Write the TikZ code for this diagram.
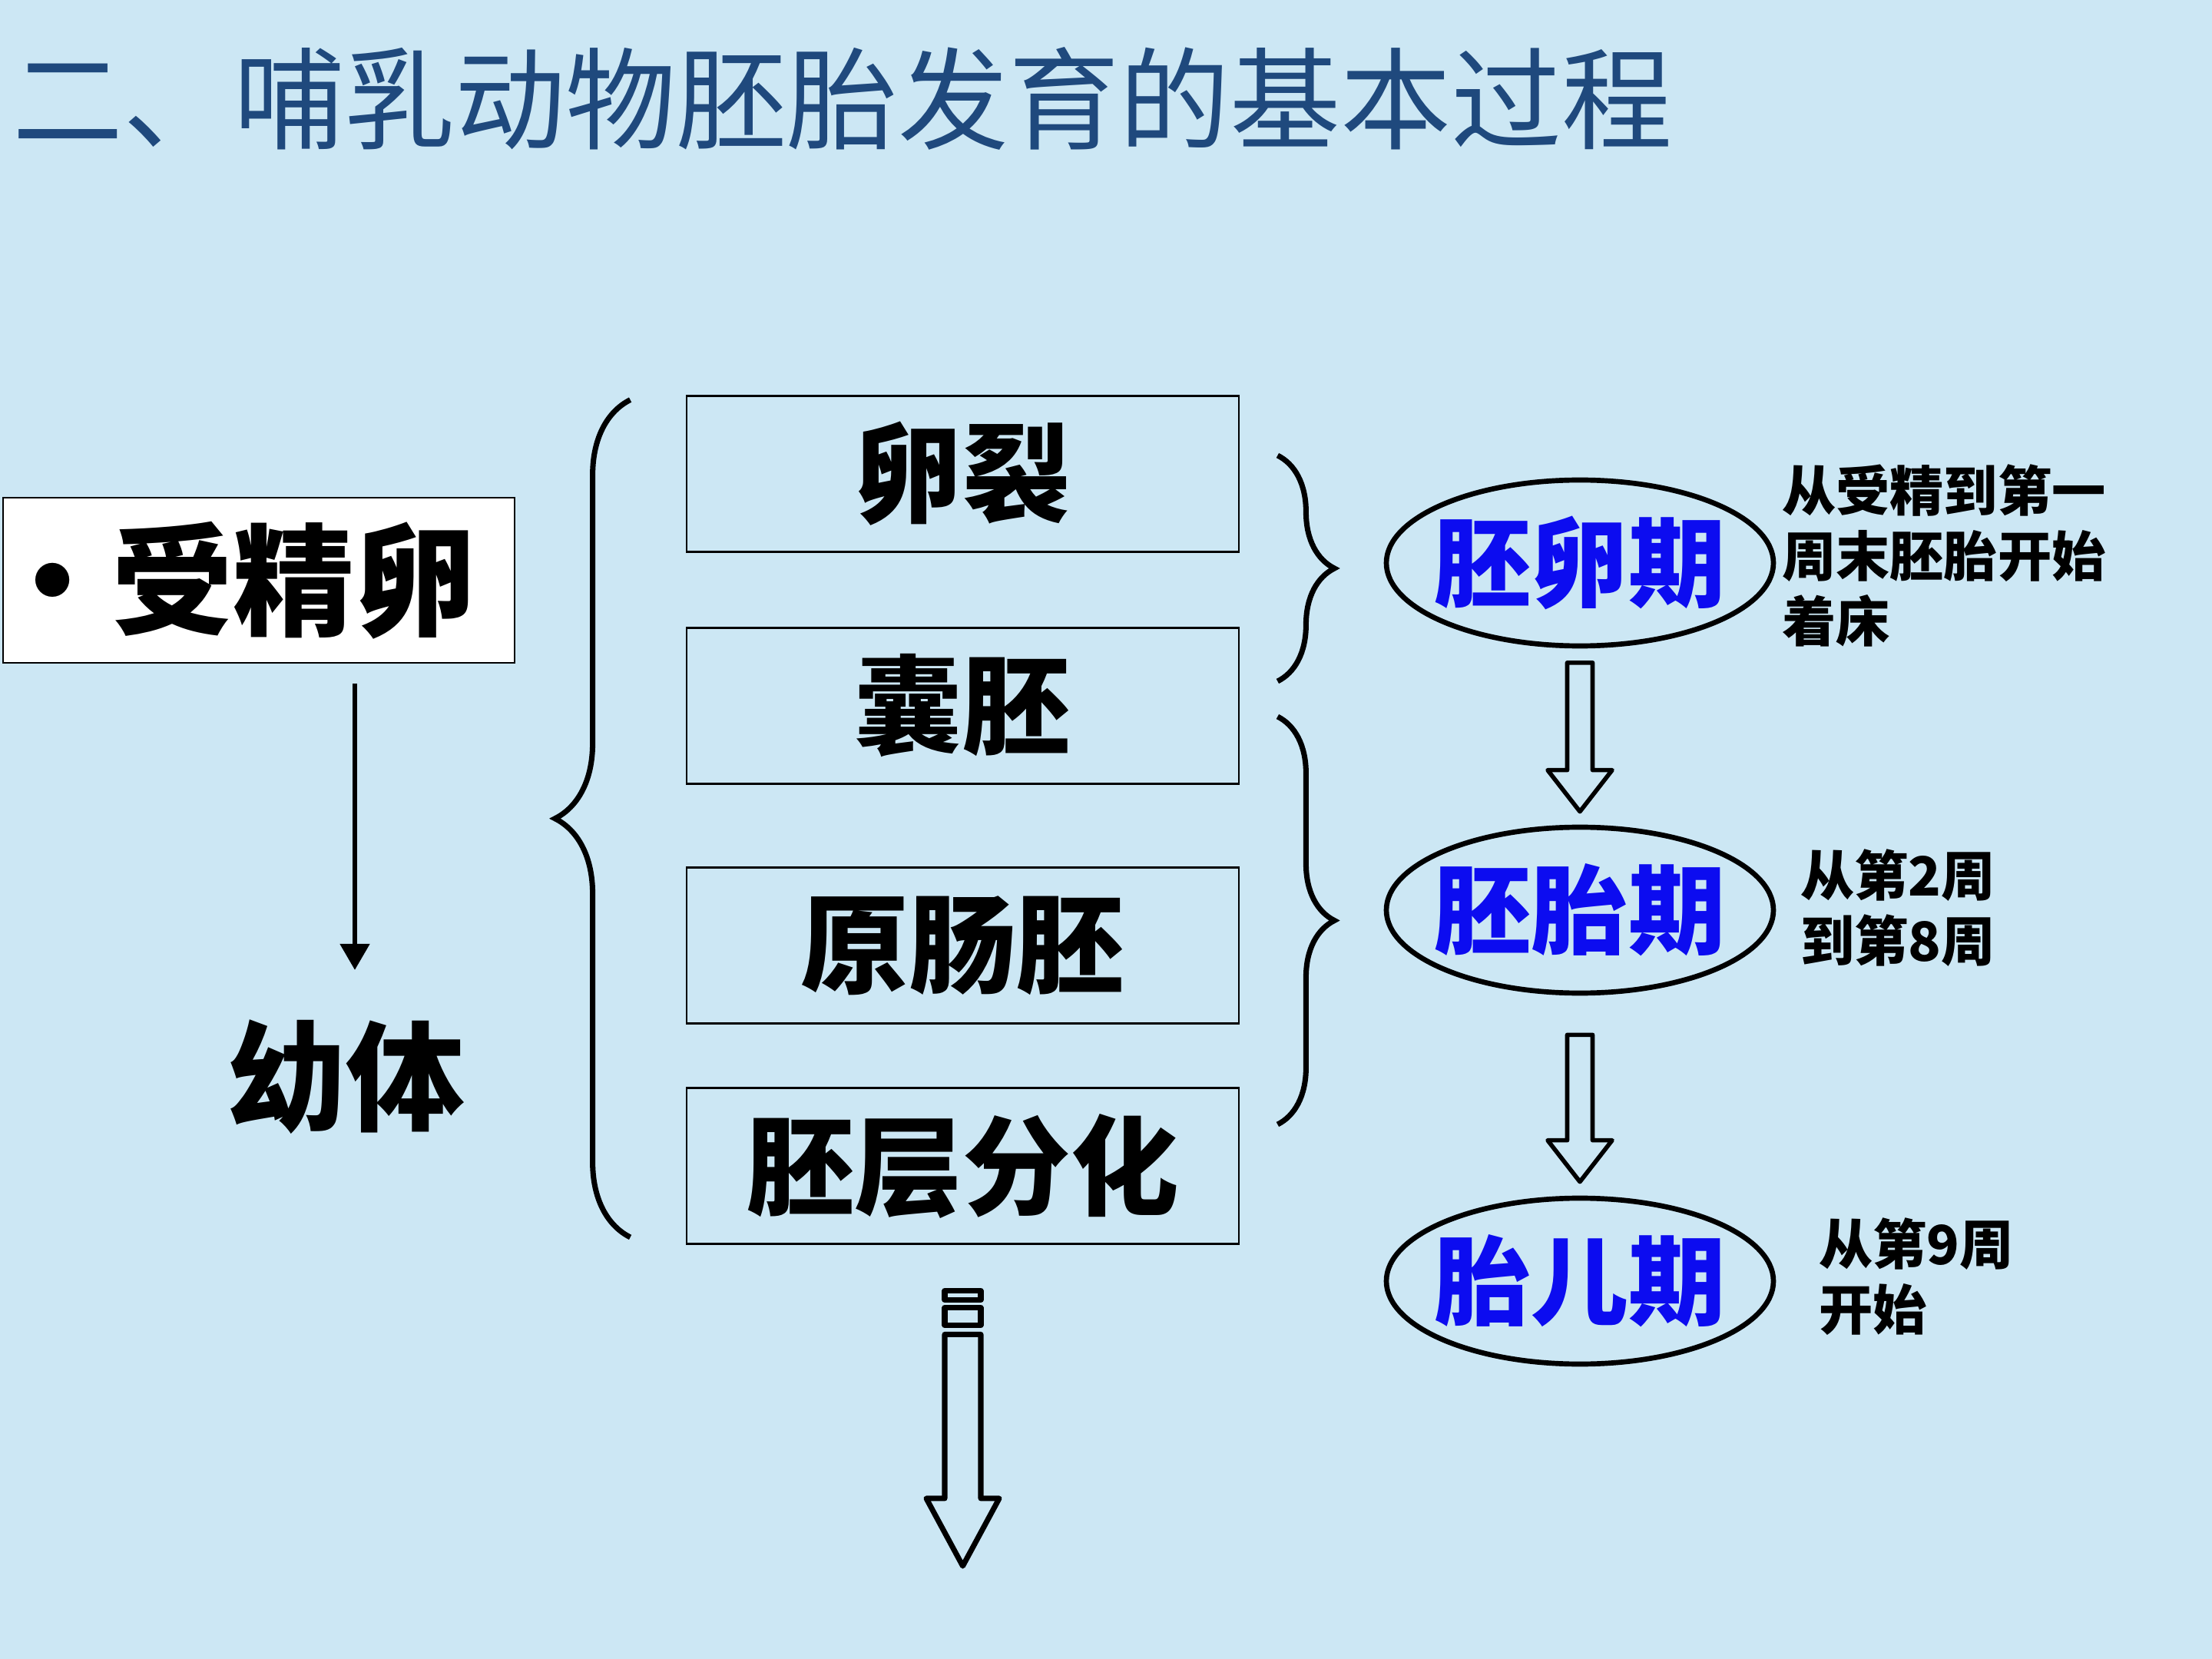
\documentclass[tikz,border=0pt]{standalone}
\usepackage{fontspec}
\setmainfont{Noto Sans CJK SC}
\usetikzlibrary{arrows.meta,positioning,shapes.geometric,decorations.pathreplacing,calc}
\definecolor{PageBlue}{RGB}{204,231,244}
\definecolor{TitleBlue}{RGB}{31,73,125}
\definecolor{StageBlue}{RGB}{12,12,240}

% hollow block arrow pointing down: start, tip, shaft half width, head half width, head length
\newcommand{\hollowdown}[5]{%
  \draw[harrow] ($(#1)+(-#3,0)$) -- ($(#2)+(-#3,#5)$) -- ($(#2)+(-#4,#5)$) -- (#2)
    -- ($(#2)+(#4,#5)$) -- ($(#2)+(#3,#5)$) -- ($(#1)+(#3,0)$) -- cycle;}

\begin{document}
\begin{tikzpicture}[
    stagebox/.style={draw=black, line width=0.8pt, minimum width=7.19cm, minimum height=2.03cm, inner sep=0pt, font=\fontsize{40}{40}\selectfont\bfseries},
    period/.style={draw=black, ellipse, line width=1.9pt, minimum width=5.04cm, minimum height=2.16cm, inner xsep=-0.3cm, inner ysep=0pt, text=StageBlue, font=\fontsize{36}{36}\selectfont\bfseries},
    note/.style={align=left, inner sep=0pt, font=\fontsize{20}{24.2}\selectfont\bfseries},
    curly/.style={decorate, decoration={brace, amplitude=#1}, line width=2pt},
    harrow/.style={draw=black, line width=1.6pt, line join=round},
    thinarrow/.style={-{Triangle[length=3.4mm, width=3.8mm]}, line width=1.5pt}
  ]
    \useasboundingbox (0,0) rectangle (28.8,-21.6);
    \fill[PageBlue] (0,0) rectangle (28.8,-21.6);

    \node[inner sep=0pt, text=TitleBlue, font=\fontsize{41}{41}\selectfont] (title) at (10.97,-1.28) {二、哺乳动物胚胎发育的基本过程};

    \node[draw=black, fill=white, line width=0.8pt, minimum width=6.66cm, minimum height=2.15cm, inner sep=0pt, font=\fontsize{45}{45}\selectfont\bfseries] (zygote) at (3.37,-7.555) {\makebox[0.3cm]{•}\hspace{0.62cm}受精卵};
    \node[inner sep=0pt, font=\fontsize{44}{44}\selectfont\bfseries] (larva) at (4.5,-14.02) {幼体};
    \draw[thinarrow] ([xshift=0.12cm,yshift=-0.26cm]zygote.south -| larva.north) -- ([xshift=0.12cm,yshift=0.64cm]larva.north);

    \node[stagebox] (cleave) at (12.535,-6.17) {卵裂};
    \node[stagebox] (blastula) at (12.535,-9.19) {囊胚};
    \node[stagebox] (gastrula) at (12.535,-12.31) {原肠胚};
    \node[stagebox] (germ) at (12.535,-15.18) {胚层分化};

    \draw[curly=0.98cm] ([xshift=-0.72cm,yshift=0.1cm]germ.south west) -- ([xshift=-0.72cm,yshift=-0.065cm]cleave.north west);
    \draw[curly=0.74cm] ([xshift=0.49cm,yshift=0.24cm]cleave.east) -- ([xshift=0.49cm,yshift=0.32cm]blastula.east);
    \draw[curly=0.74cm] ([xshift=0.49cm,yshift=-0.14cm]blastula.east) -- ([xshift=0.49cm,yshift=0.54cm]germ.east);

    \coordinate (d0) at ([yshift=-0.595cm]germ.south);
    \draw[harrow, line width=2pt] ([xshift=-0.235cm]d0) rectangle ([xshift=0.235cm,yshift=-0.12cm]d0);
    \draw[harrow, line width=2pt] ([xshift=-0.235cm,yshift=-0.22cm]d0) rectangle ([xshift=0.235cm,yshift=-0.45cm]d0);
    \coordinate (d1) at ([yshift=-0.57cm]d0);
    \coordinate (d2) at ([yshift=-3.585cm]d0);
    \begin{scope}[harrow/.append style={line width=2pt}]
      \hollowdown{d1}{d2}{0.235}{0.475}{0.88}
    \end{scope}

    \node[period] (ovum) at (20.57,-7.33) {胚卵期};
    \node[period] (embryo) at (20.57,-11.85) {胚胎期};
    \node[period] (fetus) at (20.57,-16.68) {胎儿期};

    \coordinate (a1) at ([yshift=-0.185cm]ovum.south);
    \coordinate (t1) at ([yshift=0.17cm]embryo.north);
    \coordinate (a2) at ([yshift=-0.51cm]embryo.south);
    \coordinate (t2) at ([yshift=0.18cm]fetus.north);
    \hollowdown{a1}{t1}{0.165}{0.42}{0.54}
    \hollowdown{a2}{t2}{0.165}{0.42}{0.54}

    \node[note, right=0.07cm of ovum, yshift=0.1cm] (note1) {从受精到第一\\周末胚胎开始\\着床};
    \node[note, right=0.31cm of embryo, yshift=0.03cm] (note2) {从第2周\\到第8周};
    \node[note, right=0.55cm of fetus, yshift=0.06cm] (note3) {从第9周\\开始};
\end{tikzpicture}
\end{document}
